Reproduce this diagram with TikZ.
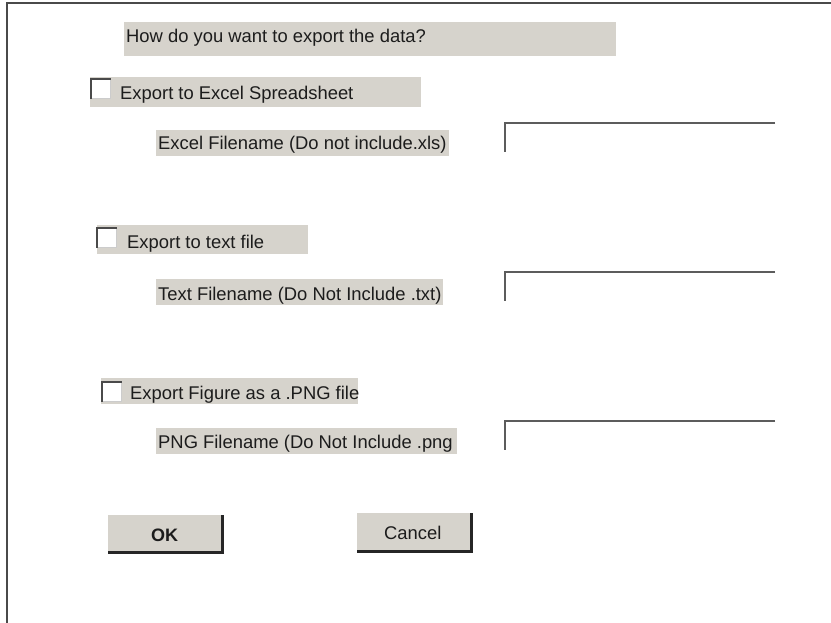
\documentclass[tikz,border=0pt]{standalone}
\usepackage{fontspec}
\setmainfont{Liberation Sans}
\definecolor{panelgray}{HTML}{D6D3CC}
\definecolor{framegray}{HTML}{4A4A4A}
\definecolor{txt}{HTML}{1C1C1C}
\tikzset{
  panel/.style={fill=panelgray, draw=none, inner sep=0pt, anchor=north west},
  lbl/.style={inner sep=0pt, anchor=base west, text=txt, font=\fontsize{18.4}{21}\selectfont},
  fieldline/.style={draw=framegray!90, line width=2pt},
  chk/.style={fill=white, draw=gray!40, line width=0.8pt, inner sep=0pt, minimum size=19pt, anchor=north west},
  chkedge/.style={draw=framegray, line width=1.6pt},
  btnedge/.style={draw=black!85, line width=2.2pt},
}
\begin{document}
\begin{tikzpicture}[x=1pt,y=-1pt]
\useasboundingbox (0,0) rectangle (831,623);
\fill[white] (0,0) rectangle (831,623);
% frame
\coordinate (ftr) at (831,3);
\coordinate (ftl) at (7,3);
\coordinate (fbl) at (7,623);
\draw[draw=framegray, line width=2pt] (ftr) -- (ftl) -- (fbl);

% title
\node[panel, minimum width=492pt, minimum height=34pt] (titlebox) at (124,22) {};
\node[lbl] (title) at (126,43) {How do you want to export the data?};

% Excel option
\node[panel, minimum width=331pt, minimum height=30pt] (xlsbox) at (90,77) {};
\node[chk] (xlschk) at (91,79) {};
\draw[chkedge] (xlschk.south west) -- (xlschk.north west) -- (xlschk.north east);
\node[lbl] (xlstxt) at (120,100) {Export to Excel Spreadsheet};
\node[panel, minimum width=293pt, minimum height=26pt] (xlslblbox) at (156,130) {};
\node[lbl] (xlslbl) at (158,150) {Excel Filename (Do not include.xls)};
\coordinate (xf1) at (775,123);
\coordinate (xf2) at (505,123);
\coordinate (xf3) at (505,152);
\draw[fieldline] (xf1) -- (xf2) -- (xf3);

% Text option
\node[panel, minimum width=211pt, minimum height=29pt] (txtbox) at (97,225) {};
\node[chk] (txtchk) at (97,228) {};
\draw[chkedge] (txtchk.south west) -- (txtchk.north west) -- (txtchk.north east);
\node[lbl] (txttxt) at (127,248) {Export to text file};
\node[panel, minimum width=287pt, minimum height=26pt] (txtlblbox) at (156,279) {};
\node[lbl] (txtlbl) at (158,301) {Text Filename (Do Not Include .txt)};
\coordinate (tf1) at (775,272);
\coordinate (tf2) at (505,272);
\coordinate (tf3) at (505,301);
\draw[fieldline] (tf1) -- (tf2) -- (tf3);

% PNG option
\node[panel, minimum width=257pt, minimum height=26pt] (pngbox) at (101,378) {};
\node[chk] (pngchk) at (102,382) {};
\draw[chkedge] (pngchk.south west) -- (pngchk.north west) -- (pngchk.north east);
\node[lbl] (pngtxt) at (130,399) {Export Figure as a .PNG file};
\node[panel, minimum width=301pt, minimum height=26pt] (pnglblbox) at (156,428) {};
\node[lbl] (pnglbl) at (158,448) {PNG Filename (Do Not Include .png};
\coordinate (pf1) at (775,421);
\coordinate (pf2) at (505,421);
\coordinate (pf3) at (505,450);
\draw[fieldline] (pf1) -- (pf2) -- (pf3);

% buttons
\node[panel, minimum width=114pt, minimum height=37pt] (okbtn) at (108,515) {};
\draw[btnedge] (okbtn.south west) -- (okbtn.south east) -- (okbtn.north east);
\node[lbl, font=\fontsize{18}{20}\selectfont\bfseries] (oktxt) at (151,541) {OK};
\node[panel, minimum width=114pt, minimum height=38pt] (cancelbtn) at (357,513) {};
\draw[btnedge] (cancelbtn.south west) -- (cancelbtn.south east) -- (cancelbtn.north east);
\node[lbl] (canceltxt) at (384,539) {Cancel};
\end{tikzpicture}
\end{document}
